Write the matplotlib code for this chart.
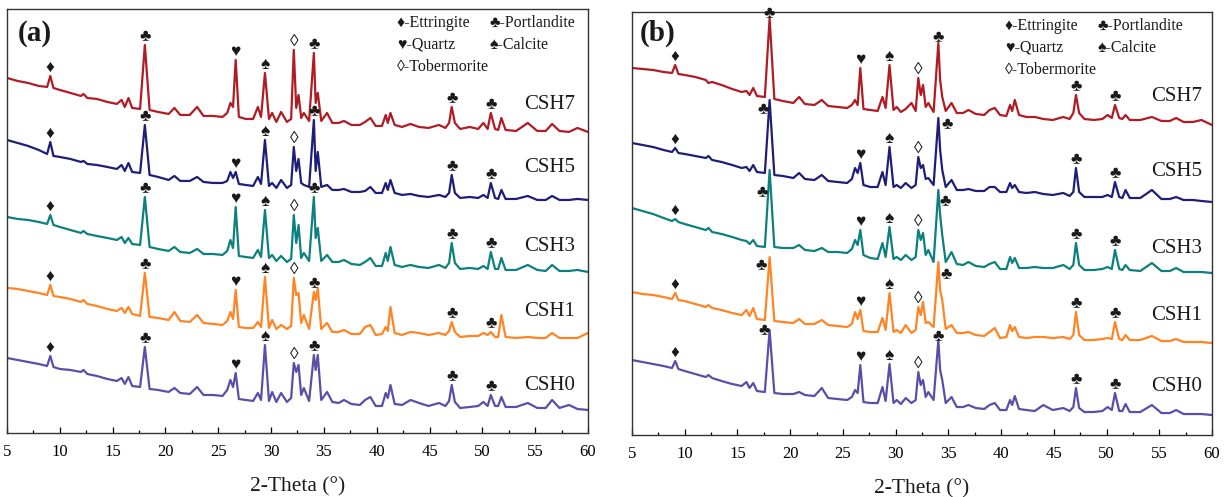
import matplotlib
matplotlib.use("Agg")
import matplotlib.pyplot as plt
import numpy as np
from matplotlib.ticker import MultipleLocator

# ---------------- data (2-theta grid and intensities, a.u. with offsets) ----------------
two_theta = [5, 6, 7, 8, 8.8, 9.1, 9.4, 10, 11, 12, 12.25, 12.6, 13.5, 14.5, 15.4, 15.85,
             16.15, 16.5, 16.85, 17.6, 18.05, 18.5, 19.3, 20.3, 20.85, 21.4, 22.3, 23.0,
             23.6, 24.5, 25.4, 25.85, 26.15, 26.4, 26.65, 26.95, 27.6, 28.3, 28.75, 29.05,
             29.42, 29.8, 30.1, 30.5, 30.95, 31.5, 31.9, 32.15, 32.38, 32.6, 32.85, 33.1,
             33.6, 34.05, 34.22, 34.42, 34.75, 35.3, 35.8, 36.4, 36.9, 37.6, 38.4, 38.9,
             39.4, 39.9, 40.5, 40.85, 41.05, 41.3, 41.7, 42.4, 43.2, 44.0, 44.9, 45.9, 46.5,
             46.85, 47.1, 47.4, 47.9, 48.8, 49.6, 50.1, 50.5, 50.8, 51.2, 51.5, 51.8, 52.2,
             53.2, 54.3, 55.2, 56.0, 56.6, 57.3, 58.2, 59.0, 60.0]

a_csh7 = [355, 352, 350, 347, 346, 357, 345, 343, 340, 337, 339, 335, 334, 331, 329, 333,
          326, 335, 325, 324, 388, 323, 321, 319, 325, 318, 318, 326, 317, 317, 316, 320,
          330, 326, 373, 316, 314, 314, 326, 316, 360, 314, 320, 311, 321, 311, 314, 383,
          325, 338, 315, 320, 312, 380, 330, 340, 312, 320, 310, 310, 312, 308, 308, 311,
          315, 307, 307, 318, 310, 320, 308, 306, 309, 306, 305, 308, 305, 310, 326, 310,
          304, 306, 304, 310, 304, 320, 304, 303, 315, 303, 302, 310, 302, 302, 309, 302,
          301, 305, 301]
a_csh5 = [293, 290, 287, 283, 279, 291, 277, 276, 274, 271, 272, 269, 268, 266, 264, 268,
          262, 270, 261, 260, 308, 258, 256, 253, 257, 252, 252, 256, 251, 250, 250, 252,
          261, 255, 261, 249, 248, 247, 256, 249, 293, 247, 250, 245, 253, 245, 248, 286,
          262, 274, 250, 248, 246, 313, 262, 281, 246, 248, 243, 243, 244, 241, 241, 242,
          246, 240, 240, 250, 243, 253, 240, 238, 239, 237, 236, 238, 236, 240, 258, 240,
          235, 236, 235, 238, 235, 250, 235, 234, 243, 234, 234, 237, 233, 233, 237, 233,
          233, 234, 233]
a_csh3 = [216, 214, 213, 211, 209, 218, 208, 206, 203, 200, 202, 199, 197, 195, 193, 196,
          190, 195, 189, 188, 236, 186, 184, 182, 186, 181, 180, 184, 179, 179, 178, 182,
          193, 185, 226, 177, 176, 175, 183, 176, 223, 175, 178, 172, 177, 171, 174, 218,
          190, 208, 175, 180, 172, 236, 195, 205, 172, 178, 171, 171, 173, 169, 168, 171,
          175, 167, 167, 180, 172, 186, 168, 166, 168, 166, 165, 168, 165, 170, 190, 170,
          164, 165, 164, 167, 164, 181, 164, 164, 175, 163, 163, 168, 163, 162, 168, 162,
          162, 163, 161]
a_csh1 = [145, 144, 142, 140, 138, 148, 137, 136, 134, 131, 133, 129, 127, 124, 122, 125,
          120, 126, 119, 117, 160, 116, 115, 113, 121, 112, 111, 118, 110, 109, 108, 112,
          121, 114, 143, 106, 105, 105, 111, 106, 156, 105, 113, 104, 108, 104, 107, 155,
          138, 140, 110, 118, 104, 141, 133, 145, 104, 110, 101, 101, 103, 99, 99, 106,
          108, 98, 99, 106, 102, 126, 100, 98, 101, 100, 98, 100, 98, 102, 111, 101,
          96, 97, 97, 100, 98, 101, 96, 96, 118, 96, 95, 96, 95, 95, 100, 95,
          95, 95, 100]
a_csh0 = [75, 73, 71, 69, 67, 77, 66, 64, 63, 61, 63, 59, 57, 54, 52, 55,
          49, 56, 47, 46, 86, 44, 43, 41, 45, 40, 39, 46, 38, 38, 37, 43,
          53, 46, 60, 34, 33, 32, 40, 33, 88, 32, 41, 31, 40, 31, 35, 70,
          61, 68, 38, 45, 32, 78, 63, 78, 33, 41, 31, 30, 33, 29, 28, 33,
          36, 27, 27, 40, 35, 48, 29, 28, 33, 30, 27, 30, 27, 32, 48, 31,
          25, 26, 27, 31, 27, 38, 27, 27, 36, 26, 26, 30, 25, 25, 33, 25,
          28, 24, 23]

b_csh7 = [367, 366, 365, 363, 362, 370, 361, 360, 358, 355, 352, 353, 350, 346, 343, 344,
          340, 347, 339, 338, 417, 336, 334, 332, 338, 331, 330, 335, 329, 328, 327, 330,
          335, 330, 367, 326, 325, 324, 338, 327, 370, 325, 328, 323, 326, 332, 324, 357,
          340, 350, 328, 332, 323, 392, 355, 338, 324, 332, 322, 322, 325, 321, 320, 325,
          327, 320, 319, 330, 324, 335, 320, 318, 318, 316, 315, 318, 316, 322, 340, 322,
          316, 315, 316, 320, 317, 330, 317, 316, 320, 315, 315, 318, 314, 314, 317, 313,
          313, 315, 310]
b_csh5 = [292, 290, 288, 285, 283, 287, 282, 281, 279, 277, 279, 275, 273, 270, 267, 268,
          264, 270, 263, 262, 335, 260, 259, 257, 262, 256, 255, 260, 254, 253, 252, 256,
          267, 262, 272, 250, 248, 248, 263, 250, 288, 248, 250, 247, 252, 247, 250, 278,
          267, 270, 256, 257, 250, 317, 285, 265, 248, 255, 245, 245, 246, 244, 244, 248,
          248, 243, 243, 252, 247, 250, 243, 242, 243, 241, 240, 242, 239, 243, 267, 243,
          238, 238, 238, 240, 238, 253, 238, 237, 245, 237, 237, 245, 236, 236, 238, 235,
          235, 234, 233]
b_csh3 = [227, 224, 221, 217, 214, 216, 213, 211, 208, 205, 207, 203, 201, 198, 195, 194,
          191, 195, 189, 188, 265, 188, 187, 187, 190, 185, 184, 187, 183, 183, 182, 186,
          195, 190, 205, 180, 177, 176, 192, 178, 208, 176, 178, 175, 180, 175, 178, 205,
          195, 202, 180, 185, 173, 245, 220, 200, 173, 183, 171, 170, 173, 169, 168, 171,
          173, 166, 166, 178, 172, 177, 167, 167, 168, 167, 167, 170, 166, 170, 192, 170,
          165, 165, 166, 168, 166, 185, 166, 165, 170, 165, 164, 172, 164, 164, 167, 163,
          163, 163, 162]
b_csh1 = [143, 141, 140, 138, 136, 142, 135, 134, 131, 128, 130, 127, 125, 122, 120, 125,
          119, 127, 116, 115, 178, 114, 113, 112, 116, 111, 111, 115, 110, 109, 108, 111,
          123, 116, 125, 104, 103, 103, 117, 105, 142, 103, 105, 102, 110, 102, 105, 128,
          120, 133, 112, 113, 108, 173, 145, 135, 106, 110, 102, 102, 103, 100, 99, 103,
          107, 97, 98, 110, 104, 108, 98, 97, 98, 98, 97, 98, 96, 100, 123, 100,
          95, 95, 96, 97, 96, 113, 96, 95, 100, 95, 95, 99, 94, 94, 96, 93,
          93, 93, 92]
b_csh0 = [75, 73, 71, 69, 67, 74, 66, 64, 61, 58, 60, 57, 54, 51, 49, 53,
          47, 52, 44, 43, 105, 42, 41, 41, 43, 40, 39, 47, 37, 36, 35, 38,
          45, 42, 70, 33, 32, 32, 48, 34, 71, 32, 35, 31, 37, 32, 35, 63,
          50, 55, 38, 43, 35, 95, 65, 55, 32, 38, 28, 28, 30, 27, 26, 30,
          32, 25, 25, 35, 30, 39, 26, 25, 24, 30, 25, 27, 24, 28, 47, 27,
          23, 23, 24, 28, 25, 42, 24, 24, 31, 23, 23, 30, 22, 22, 25, 21,
          21, 21, 20]

sample_names = ["CSH7", "CSH5", "CSH3", "CSH1", "CSH0"]
colors = ["#B01B24", "#1E1E78", "#0C807E", "#FF8424", "#5B4EA8"]

# phase markers shown above each pattern
marker_symbols = ["\u2666", "\u2663", "\u2665", "\u2660", "\u25CA", "\u2663", "\u2663", "\u2663"]
marker_angles = [9.1, 18.05, 26.65, 29.42, 32.15, 34.05, 47.1, 50.8]

legend_rows = [["\u2666-Ettringite", "\u2663-Portlandite"],
               ["\u2665-Quartz", "\u2660-Calcite"],
               ["\u25CA-Tobermorite"]]

# ---------------- style / layout ----------------
SERIF = ["Liberation Serif", "DejaVu Serif", "DejaVu Sans"]
SYM = ["Liberation Serif", "DejaVu Sans"]

fig = plt.figure(figsize=(12.25, 4.97), dpi=100)
ax_a = fig.add_axes([0.0057, 0.1288, 0.4743, 0.8532])
ax_b = fig.add_axes([0.5159, 0.1247, 0.4735, 0.8512])

panels = [
    dict(ax=ax_a, tag="(a)", series=[a_csh7, a_csh5, a_csh3, a_csh1, a_csh0], ytop=424,
         tagpos=(0.019, 0.943), legx=(0.671, 0.831), legy=(0.967, 0.915, 0.863),
         labx=56.4, laby=[328, 265, 186, 121, 47], offsets={}),
    dict(ax=ax_b, tag="(b)", series=[b_csh7, b_csh5, b_csh3, b_csh1, b_csh0], ytop=423,
         tagpos=(0.014, 0.95), legx=(0.643, 0.803), legy=(0.967, 0.915, 0.863),
         labx=56.65, laby=[338, 263, 187, 120, 49],
         offsets={(1, 1): (-6, -10), (2, 1): (-7, -23), (3, 1): (-8, -9), (4, 1): (-5, -1),
                  (0, 1): (0, 4), (1, 5): (9, -7), (2, 5): (7, -12), (3, 5): (8, -13),
                  (0, 5): (0, 5), (4, 5): (0, 3)}),
]

for p in panels:
    ax = p["ax"]
    for si, (ys, c, name) in enumerate(zip(p["series"], colors, sample_names)):
        ax.plot(two_theta, ys, color=c, lw=1.6, solid_joinstyle="round")
        for mi, (sym, xm) in enumerate(zip(marker_symbols, marker_angles)):
            ym = np.interp(xm, two_theta, ys)
            dx, dy = p["offsets"].get((si, mi), (0, 8))
            ax.annotate(sym, xy=(xm, ym), xytext=(dx, dy), textcoords="offset pixels",
                        ha="center", va="center", fontsize=12.5, family=SYM,
                        color="#1a1a1a")
        ax.text(p["labx"], p["laby"][si], name, ha="center", va="center",
                fontsize=15, family=SERIF, color="#1a1a1a")
    for ri, row in enumerate(legend_rows):
        for ci, txt in enumerate(row):
            ax.text(p["legx"][ci], p["legy"][ri], txt, transform=ax.transAxes,
                    ha="left", va="center", fontsize=11.5, family=SYM, color="#1a1a1a")
    ax.text(p["tagpos"][0], p["tagpos"][1], p["tag"], transform=ax.transAxes,
            ha="left", va="center", fontsize=21, fontweight="bold", family=SERIF,
            color="#1a1a1a")
    ax.set_xlim(5, 60)
    ax.set_ylim(0, p["ytop"])
    ax.set_yticks([])
    ax.xaxis.set_major_locator(MultipleLocator(5))
    ax.xaxis.set_minor_locator(MultipleLocator(2.5))
    ax.tick_params(axis="x", which="major", direction="in", length=4, width=0.9,
                   pad=8, labelsize=12, top=False)
    ax.tick_params(axis="x", which="minor", direction="in", length=2.2, width=0.9,
                   top=False)
    for lab in ax.get_xticklabels():
        lab.set_family(SERIF)
    for s in ax.spines.values():
        s.set_linewidth(1.0)
        s.set_color("#333333")
    ax.set_xlabel("2-Theta (\u00b0)", fontsize=15.5, family=SERIF, labelpad=12,
                  color="#1a1a1a")

fig.savefig("out.png", dpi=100)
